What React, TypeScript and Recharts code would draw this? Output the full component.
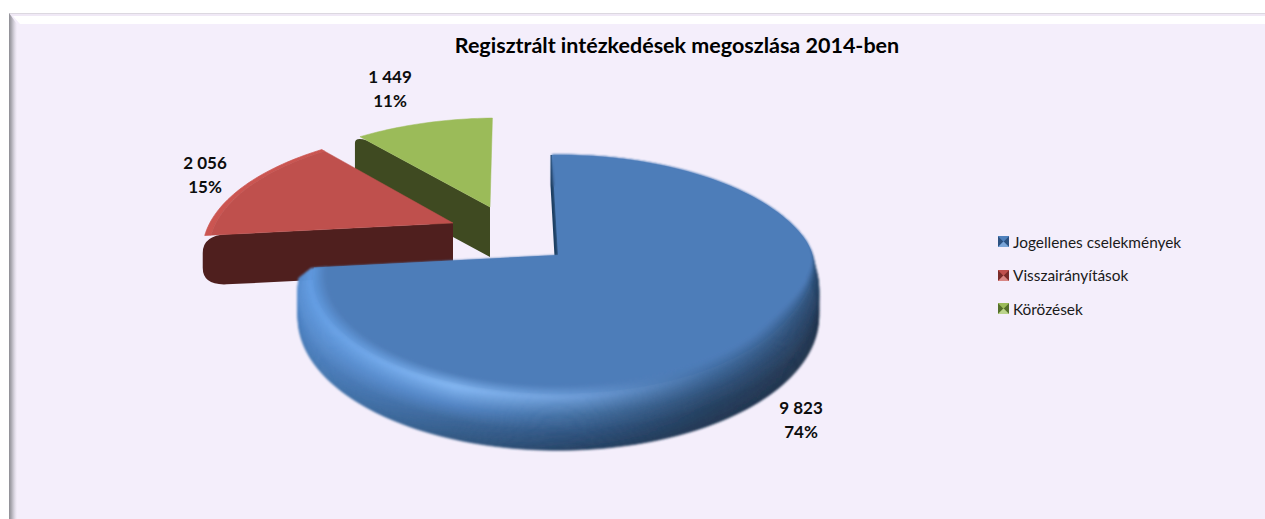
import React from "react";
import { PieChart, Pie, Legend } from "recharts";

const titleText = "Regisztrált intézkedések megoszlása 2014-ben";
const legendOrder = ["Jogellenes cselekmények", "Visszairányítások", "Körözések"];
const drawOrder = ["Körözések", "Visszairányítások", "Jogellenes cselekmények"];
const drawValues = [1449, 2056, 9823];
const pieData = drawOrder.map((name, i) => ({ name, value: drawValues[i] }));

const FONT = "Lato, 'Open Sans', sans-serif";
const CX = 558;
const CY = 255;
const RX = 256;
const RY = 120;
const P = 0.2;

type Station = { r: number; z: number; colors: string[] };
type Style = {
  face: string; wall: string;
  dx: number; dy: number; sx: number; sy: number; shear: number; depth: number; depthP: number;
  round: number; wallOut: number; blur: boolean; stations: Station[];
};

const blueFace = "#4e7db9";
const redFace = "#bf504d";
const greenFace = "#9bbb59";
const STYLES: Record<string, Style> = {
  "Jogellenes cselekmények": {
    face: blueFace, wall: "#1d3f62",
    dx: 0, dy: 0, sx: 1, sy: 1, shear: 0, depth: 37, depthP: P, round: 0, wallOut: 0, blur: true,
    stations: [
      { r: 0.89, z: 0, colors: [blueFace, blueFace, blueFace, blueFace, blueFace] },
      { r: 0.95, z: 0.02, colors: ["#5e9ae2", "#82b6f2", "#6a9ad6", "#3e6a9e", "#2c4f78"] },
      { r: 0.995, z: 0.25, colors: ["#568cce", "#4f82c2", "#3f6b9c", "#2b4c74", "#233d5e"] },
      { r: 0.995, z: 0.55, colors: ["#4c82c4", "#3b6699", "#2f5583", "#233f60", "#1f3450"] },
      { r: 0.995, z: 1, colors: ["#4478b4", "#2f5580", "#233f60", "#1f3450", "#1e3048"] },
    ],
  },
  "Visszairányítások": {
    face: redFace, wall: "#4f1f1e",
    dx: -105, dy: -32, sx: 0.95, sy: 0.93, shear: -0.09, depth: 50, depthP: 0, round: 22, wallOut: 2, blur: false,
    stations: [
      { r: 0.975, z: 0, colors: [redFace, redFace, redFace, redFace, redFace] },
      { r: 1, z: 0, colors: ["#d65a55", "#cb5450", redFace, redFace, redFace] },
    ],
  },
  "Körözések": {
    face: greenFace, wall: "#3f4a21",
    dx: -68, dy: -48, sx: 0.94, sy: 0.89, shear: -0.09, depth: 50, depthP: 0, round: 8, wallOut: 5, blur: false,
    stations: [{ r: 1, z: 0, colors: [greenFace, greenFace, greenFace, greenFace, greenFace] }],
  },
};

const LABEL_POS: Record<string, [number, number]> = {
  "Jogellenes cselekmények": [243, 153],
  "Visszairányítások": [-353, -92],
  "Körözések": [-168, -178],
};

const LEGEND_FACES = [
  ["#4f81bd", "#2c5282", "#7aa5d8"],
  ["#c0504d", "#7a2c2a", "#d98785"],
  ["#9bbb59", "#55702a", "#bcd48c"],
];

const hex = (c: string) => {
  if (c[0] === "#") return [1, 3, 5].map((i) => parseInt(c.slice(i, i + 2), 16));
  return c.slice(4, -1).split(",").map(Number);
};
const mix = (a: string, b: string, t: number) => {
  const A = hex(a);
  const B = hex(b);
  return "rgb(" + A.map((v, i) => Math.round(v + (B[i] - v) * t)).join(",") + ")";
};
const smooth = (a: number, b: number, x: number) => {
  const t = Math.max(0, Math.min(1, (x - a) / (b - a)));
  return t * t * (3 - 2 * t);
};

function SliceShape(props: any) {
  const st = STYLES[props.name];
  const ax = props.cx + st.dx;
  const ay = props.cy + st.dy;
  const scale = props.outerRadius / RX;
  const rx = RX * scale * st.sx;
  const ry = RY * scale * st.sy;
  const a0 = props.startAngle;
  const a1 = props.endAngle;

  const raw = (deg: number, r: number, z: number): [number, number] => {
    const th = (deg * Math.PI) / 180;
    const ux = Math.cos(th) * r;
    const uy = -Math.sin(th) * r;
    const w = 1 - P * uy;
    const wd = 1 - st.depthP * uy;
    const Y = (ry * uy) / w;
    const X = (rx * ux) / w + st.shear * Y;
    return [ax + X, ay + Y + (st.depth * z) / wd];
  };
  const fac = (deg: number) => {
    const th = (deg * Math.PI) / 180;
    const ux = Math.cos(th);
    const uy = -Math.sin(th);
    return ux < 0 ? smooth(-0.3, 0, uy) : smooth(-0.15, 0.6, uy);
  };
  const stationPt = (deg: number, r: number, z: number) => {
    const f = st.stations.length > 2 ? fac(deg) : 1;
    return raw(deg, 1 - (1 - r) * f, z);
  };
  const steps = Math.max(4, Math.ceil((a1 - a0) / 1.5));
  const angles = Array.from({ length: steps + 1 }, (_, i) => a0 + ((a1 - a0) * i) / steps);
  const poly = (pts: [number, number][]) =>
    "M" + pts.map((p) => p[0].toFixed(2) + " " + p[1].toFixed(2)).join("L") + "Z";

  const A: [number, number] = [ax, ay];
  const Ad: [number, number] = [ax, ay + st.depth];
  const E = raw(a1, 1, 0);
  const len = Math.hypot(E[0] - ax, E[1] - ay) || 1;
  const k = 1 - st.round / len;
  const En: [number, number] = [ax + (E[0] - ax) * k, ay + (E[1] - ay) * k];
  const dep = st.depth / (1 + st.depthP * Math.sin((a1 * Math.PI) / 180));
  const rv = Math.min(st.round * 0.8, dep / 2);
  const Ex = E[0] - st.wallOut;
  const wallPath =
    `M${A[0]} ${A[1]}L${En[0]} ${En[1]}Q${Ex} ${E[1]} ${Ex} ${E[1] + rv}` +
    `L${Ex} ${E[1] + dep - rv}Q${Ex} ${E[1] + dep} ${En[0]} ${En[1] + dep}L${Ad[0]} ${Ad[1]}Z`;

  const bands: { a: Station; b: Station; id: string; colors: string[] }[] = [];
  const SUB = st.stations.length > 2 ? 9 : 1;
  for (let i = st.stations.length - 1; i > 0; i--) {
    const s0 = st.stations[i - 1];
    const s1 = st.stations[i];
    for (let j = SUB; j > 0; j--) {
      const t1 = j / SUB;
      const t0 = (j - 1) / SUB;
      const at = (t: number): Station => ({
        r: s0.r + (s1.r - s0.r) * t,
        z: s0.z + (s1.z - s0.z) * t,
        colors: [],
      });
      const tm = (t0 + t1) / 2;
      bands.push({
        a: at(t0),
        b: at(t1),
        id: `band-${props.name.length}-${i}-${j}`,
        colors: s0.colors.map((c, n) => mix(c, s1.colors[n], tm)),
      });
    }
  }
  const s0 = st.stations[0];
  const facePts: [number, number][] = [A, ...angles.map((d) => stationPt(d, s0.r, s0.z))];
  const underPts: [number, number][] = [A, ...angles.map((d) => stationPt(d, Math.min(1, s0.r + 0.05), 0))];
  const gradStops = [0, 0.3, 0.55, 0.8, 1];
  const blurId = `soft-${props.name.length}`;

  return (
    <g>
      <defs>
        <filter id={blurId} x="-5%" y="-5%" width="110%" height="110%">
          <feGaussianBlur stdDeviation={1.2} />
        </filter>
        {bands.map((b) => (
          <linearGradient
            key={b.id}
            id={b.id}
            gradientUnits="userSpaceOnUse"
            x1={props.cx - RX}
            x2={props.cx + RX}
            y1={0}
            y2={0}
          >
            {b.colors.map((c, n) => (
              <stop key={n} offset={gradStops[n]} stopColor={c} />
            ))}
          </linearGradient>
        ))}
      </defs>
      <path d={wallPath} fill={st.wall} stroke={st.blur ? st.wall : "none"} strokeWidth={st.blur ? 3 : 0} />
      {st.blur ? <path d={poly(underPts)} fill={st.face} /> : null}
      <g filter={st.blur ? `url(#${blurId})` : undefined}>
        {bands.map((b) => {
          const pts = [
            ...angles.map((d) => stationPt(d, b.b.r, b.b.z)),
            ...angles.slice().reverse().map((d) => stationPt(d, b.a.r, b.a.z)),
          ];
          return <path key={b.id} d={poly(pts)} fill={`url(#${b.id})`} stroke={`url(#${b.id})`} strokeWidth={0.7} />;
        })}
        {st.blur ? <path d={poly(facePts)} fill={st.face} /> : null}
      </g>
      {st.blur ? null : <path d={poly(facePts)} fill={st.face} stroke={st.face} strokeWidth={0.5} />}
    </g>
  );
}

const groupDigits = (v: number) => String(v).replace(/\B(?=(\d{3})+$)/g, " ");

function renderLabel(props: any) {
  const pos = LABEL_POS[props.name];
  const x = props.cx + pos[0];
  const y = props.cy + pos[1];
  return (
    <text x={x} y={y} textAnchor="middle" fontFamily={FONT} fontWeight={700} fontSize={17} fill="#0d0d0d">
      <tspan x={x} dy="0.35em">{groupDigits(props.value)}</tspan>
      <tspan x={x} dy={24}>{Math.round(props.percent * 100)}%</tspan>
    </text>
  );
}

function LegendBox() {
  return (
    <div style={{ fontFamily: FONT, fontSize: 15.4, color: "#1a1a1a" }}>
      {legendOrder.map((name, i) => {
        const [c, d, l] = LEGEND_FACES[i];
        return (
          <div key={name} style={{ display: "flex", alignItems: "center", height: 33.5 }}>
            <svg width={11} height={11} style={{ marginRight: 4 }}>
              <rect width={11} height={11} fill={c} />
              <polygon points="0,0 5.5,5.5 0,11" fill={d} />
              <polygon points="11,0 5.5,5.5 11,11" fill={d} />
              <polygon points="0,0 11,0 5.5,5.5" fill={c} />
              <polygon points="0,11 11,11 5.5,5.5" fill={l} />
            </svg>
            <span>{name}</span>
          </div>
        );
      })}
    </div>
  );
}

export default function App() {
  return (
    <div style={{ position: "absolute", left: 0, top: 0, width: 1265, height: 519, overflow: "hidden", background: "#fff" }}>
      <div style={{ position: "absolute", left: 9, top: 13, right: 0, bottom: 0, background: "#f4eefb" }} />
      <div style={{ position: "absolute", left: 9, top: 13, right: 0, height: 1, background: "#dcd8e0" }} />
      <div style={{ position: "absolute", left: 9, top: 14, right: 0, height: 2, background: "#f0e9f6" }} />
      <div
        style={{
          position: "absolute",
          left: 9,
          top: 16,
          right: 0,
          height: 8,
          background: "#ffffff",
          clipPath: "polygon(4px 0, 100% 0, 100% 100%, 11px 100%)",
        }}
      />
      <div
        style={{
          position: "absolute",
          left: 9,
          top: 13,
          width: 8,
          bottom: 0,
          background: "linear-gradient(to right,#8e8e94,#a6a4ac,#c6c3cd,#e2dde9,#f4eefb)",
          clipPath: "polygon(0 0, 100% 11px, 100% 100%, 0 100%)",
        }}
      />
      <div style={{ position: "absolute", left: 0, top: 0 }}>
        <PieChart width={1265} height={519} margin={{ top: 0, right: 0, bottom: 0, left: 0 }}>
          <text x={677} y={47} textAnchor="middle" dominantBaseline="middle" fontFamily={FONT} fontWeight={700} fontSize={21.5} fill="#000">
            {titleText}
          </text>
          <Pie
            data={pieData}
            dataKey="value"
            nameKey="name"
            cx={CX}
            cy={CY}
            innerRadius={0}
            outerRadius={RX}
            startAngle={91.6}
            endAngle={451.6}
            stroke="none"
            isAnimationActive={false}
            shape={SliceShape}
            label={renderLabel}
            labelLine={false}
          />
          <Legend
            layout="vertical"
            content={<LegendBox />}
            wrapperStyle={{ position: "absolute", left: 998, top: 225, width: 220, bottom: "auto" }}
          />
        </PieChart>
      </div>
    </div>
  );
}
